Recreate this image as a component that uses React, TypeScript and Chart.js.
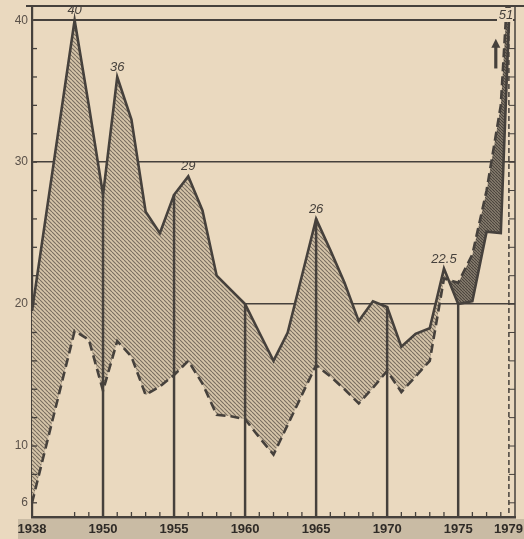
import React, { useEffect, useRef } from 'react';
import { Chart, registerables } from 'chart.js';

Chart.register(...registerables);

// Category slots (two blank slots keep the compressed 1938–1948 gap)
const years: string[] = [
  '1938', '', '', '1948', '1949', '1950', '1951', '1952', '1953', '1954',
  '1955', '1956', '1957', '1958', '1959', '1960', '1961', '1962', '1963', '1964',
  '1965', '1966', '1967', '1968', '1969', '1970', '1971', '1972', '1973', '1974',
  '1975', '1976', '1977', '1978', '1979',
];

// Upper series (solid line)
const upperValues: (number | null)[] = [
  19.5, null, null, 40, 34, 27.7, 36, 33, 26.5, 25,
  27.7, 29, 26.6, 22, 21, 20, 18, 16, 18, 22,
  26, 23.8, 21.5, 18.8, 20.2, 19.8, 17, 17.9, 18.3, 22.5,
  20, 20.2, 25.1, 25, 51,
];

// Lower series (dashed line)
const lowerValues: (number | null)[] = [
  6, null, null, 18.1, 17.5, 13.9, 17.4, 16.3, 13.6, 14.2,
  15, 16, 14.4, 12.2, 12.1, 11.9, 10.6, 9.4, 11.5, 13.6,
  15.7, 14.9, 14, 13, 14.1, 15.3, 13.8, 14.9, 16, 21.8,
  21.5, 23.5, 28, 34, 51,
];

const yTickValues = [6, 10, 20, 30, 40];
const gridValues = [20, 30, 40];
const xTickLabels = ['1938', '1950', '1955', '1960', '1965', '1970', '1975', '1979'];
const dropYears = ['1950', '1955', '1960', '1965', '1970', '1975'];
const labelYears = ['1948', '1951', '1956', '1965', '1974'];
const offScaleLabel = '51';

const INK = '#46413c';
const PAPER = '#ead9bf';
const X_FONT = "bold 13px 'Liberation Sans Narrow', 'Liberation Sans', Arial, sans-serif";

export default function App() {
  const ref = useRef<HTMLCanvasElement>(null);

  useEffect(() => {
    document.body.style.margin = '0';
    const canvas = ref.current!;
    const ctx = canvas.getContext('2d')!;

    const makePattern = (bg: string, fg: string, size: number, lw: number) => {
      const c = document.createElement('canvas');
      c.width = size;
      c.height = size;
      const g = c.getContext('2d')!;
      g.fillStyle = bg;
      g.fillRect(0, 0, size, size);
      g.strokeStyle = fg;
      g.lineWidth = lw;
      g.beginPath();
      for (const k of [-1, 0, 1]) {
        g.moveTo(k * size, 0);
        g.lineTo(k * size + size, size);
      }
      g.stroke();
      return ctx.createPattern(c, 'repeat')!;
    };
    const hatchLight = makePattern('#d6c5a9', '#7a6e60', 4, 1.1);
    const hatchDark = makePattern('#8f8576', '#4a443c', 3, 1.2);

    const dropData = years.map((yr, i) => (dropYears.includes(yr) ? upperValues[i] : null));
    const lastIdx = years.length - 1;

    const paperPlugin = {
      id: 'paper',
      beforeDraw(chart: any) {
        const c = chart.ctx;
        const a = chart.chartArea;
        c.save();
        c.fillStyle = PAPER;
        c.fillRect(0, 0, chart.width, chart.height);
        c.fillStyle = '#c9bba4';
        c.fillRect(18, a.bottom + 2, chart.width - 18, chart.height - a.bottom - 2);
        c.restore();
      },
    };

    const decorPlugin = {
      id: 'decor',
      afterDatasetsDraw(chart: any) {
        const c = chart.ctx;
        const a = chart.chartArea;
        const xs = chart.scales.x;
        const ys = chart.scales.y;
        const line = (x1: number, y1: number, x2: number, y2: number) => {
          c.beginPath();
          c.moveTo(x1, y1);
          c.lineTo(x2, y2);
          c.stroke();
        };
        c.save();
        c.strokeStyle = INK;
        // top frame line
        c.lineWidth = 2;
        line(26, a.top, chart.width, a.top);
        // right border
        c.lineWidth = 1.5;
        line(a.right, a.top, a.right, a.bottom);
        // dashed ladder at right
        const lx = (xs.getPixelForValue(lastIdx - 1) + a.right) / 2 + 1;
        c.setLineDash([5, 3]);
        c.lineWidth = 1.5;
        line(lx, a.top + 14, lx, a.bottom);
        c.setLineDash([]);
        c.lineWidth = 1;
        for (let v = 6; v <= 38; v += 2) {
          const py = ys.getPixelForValue(v);
          line(lx, py, a.right, py);
        }
        // y minor ticks (inward)
        c.lineWidth = 1.3;
        for (let v = 6; v <= 40; v += 2) {
          const py = ys.getPixelForValue(v);
          line(a.left, py, a.left + 5, py);
        }
        // x minor ticks (upward)
        years.forEach((yr, i) => {
          if (!yr || dropYears.includes(yr) || i === 0 || i === lastIdx) return;
          const px = xs.getPixelForValue(i);
          line(px, a.bottom, px, a.bottom - 5);
        });
        // value labels
        const meta = chart.getDatasetMeta(0);
        c.fillStyle = INK;
        c.font = "italic 13px 'Liberation Sans', Arial, sans-serif";
        c.textAlign = 'center';
        c.textBaseline = 'bottom';
        labelYears.forEach((yr) => {
          const i = years.indexOf(yr);
          const pt = meta.data[i];
          c.fillText(String(upperValues[i]), pt.x, pt.y - 3);
        });
        // off-scale label
        const lastX = xs.getPixelForValue(lastIdx);
        c.fillStyle = PAPER;
        c.fillRect(lastX - 18, a.top + 2, 16, 14);
        c.fillStyle = INK;
        c.fillText(offScaleLabel, lastX - 9, a.top + 16);
        // arrow
        const ax = xs.getPixelForValue(lastIdx - 1) - 5;
        const ay1 = ys.getPixelForValue(36.6);
        const ay0 = ys.getPixelForValue(38.7);
        c.lineWidth = 3.2;
        line(ax, ay1, ax, ay0 + 6);
        c.beginPath();
        c.moveTo(ax, ay0);
        c.lineTo(ax - 4.5, ay0 + 9);
        c.lineTo(ax + 4.5, ay0 + 9);
        c.closePath();
        c.fill();
        // last year label, right-aligned at the page edge
        c.fillStyle = '#2f2b27';
        c.font = X_FONT;
        c.textAlign = 'right';
        c.textBaseline = 'middle';
        c.fillText(years[lastIdx], chart.width - 1, a.bottom + 12);
        c.restore();
      },
    };

    const chart = new Chart(ctx, {
      type: 'line',
      data: {
        labels: years,
        datasets: [
          {
            type: 'line',
            data: upperValues,
            borderColor: INK,
            borderWidth: 2.6,
            pointRadius: 0,
            tension: 0,
            spanGaps: true,
            fill: { target: 1, above: hatchLight, below: hatchDark },
            order: 2,
          } as any,
          {
            type: 'line',
            data: lowerValues,
            borderColor: INK,
            borderWidth: 2.6,
            borderDash: [9, 5],
            pointRadius: 0,
            tension: 0,
            spanGaps: true,
            fill: false,
            order: 1,
          } as any,
          {
            type: 'bar',
            data: dropData,
            backgroundColor: INK,
            barThickness: 1.8,
            order: 0,
          } as any,
        ],
      },
      options: {
        responsive: false,
        animation: false,
        layout: { padding: { top: 6, right: 9, left: 0, bottom: 0 } },
        plugins: { legend: { display: false }, tooltip: { enabled: false } },
        scales: {
          x: {
            type: 'category',
            offset: false,
            grid: { display: false, drawTicks: false },
            border: { display: true, color: INK, width: 2.5 },
            ticks: {
              autoSkip: false,
              maxRotation: 0,
              padding: 5,
              color: '#2f2b27',
              font: { family: "'Liberation Sans Narrow', 'Liberation Sans', Arial, sans-serif", size: 13, weight: 'bold' },
              callback: (_v: any, i: number) =>
                i !== lastIdx && xTickLabels.includes(years[i]) ? years[i] : null,
            },
            afterFit: (s: any) => {
              s.height = 22;
              s.paddingLeft = 0;
              s.paddingRight = 0;
            },
          } as any,
          y: {
            min: 5,
            max: 41,
            afterBuildTicks: (s: any) => {
              s.ticks = yTickValues.map((v) => ({ value: v }));
            },
            grid: {
              drawTicks: false,
              color: (c: any) => (gridValues.includes(c.tick?.value) ? INK : 'rgba(0,0,0,0)'),
              lineWidth: (c: any) => (c.tick?.value === 40 ? 2 : 1.4),
            },
            border: { display: true, color: INK, width: 2.2 },
            ticks: {
              padding: 4,
              color: '#5a5149',
              font: { family: "'Liberation Sans', Arial, sans-serif", size: 12 },
            },
            afterFit: (s: any) => {
              s.width = 32;
              s.paddingTop = 0;
              s.paddingBottom = 0;
            },
          } as any,
        },
      },
      plugins: [paperPlugin, decorPlugin],
    });

    return () => chart.destroy();
  }, []);

  return (
    <div style={{ position: 'fixed', left: 0, top: 0, width: 524, height: 539, background: PAPER }}>
      <canvas ref={ref} width={524} height={539} style={{ display: 'block' }} />
    </div>
  );
}
